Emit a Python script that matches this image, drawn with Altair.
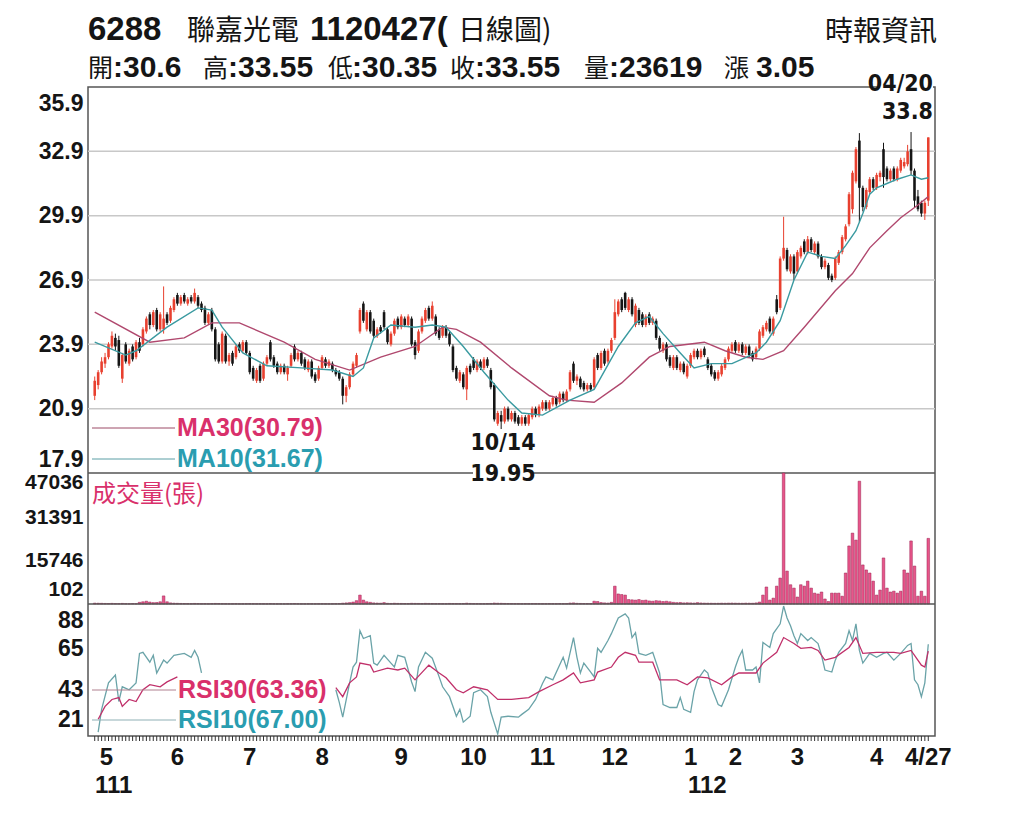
import altair as alt
import pandas as pd

# ---- values (one entry per trading day) ----
month_labels = ["5", "6", "7", "8", "9", "10", "11", "12", "1", "2", "3", "4", "4/27"]
month_start = [0, 24, 45, 66, 89, 110, 130, 151, 173, 186, 204, 227, 242]
year_labels = ["111", "112"]

opens = [
    21.5, 22.0, 22.6, 23.0, 23.3, 23.8, 24.2, 24.1, 22.3, 23.9, 23.0, 23.8, 23.3, 24.0, 23.9, 24.5, 25.3, 24.8, 25.5, 24.6, 24.6, 25.3, 25.0, 25.5,
    26.2, 25.8, 26.2, 25.8, 26.1, 25.9, 26.1, 25.8, 25.6, 24.9, 25.5, 24.6, 23.9, 23.1, 24.3, 23.1, 23.5, 23.3, 23.9, 23.6, 24.0,
    23.5, 22.8, 22.2, 22.9, 22.3, 23.0, 24.0, 23.3, 23.0, 22.6, 22.9, 22.5, 22.9, 23.8, 23.2, 23.5, 23.2, 22.7, 23.1, 22.5, 22.3,
    22.8, 23.2, 22.9, 23.0, 22.7, 22.6, 22.3, 21.5, 21.9, 22.5, 22.9, 24.5, 25.8, 24.6, 25.4, 25.0, 24.3, 24.7, 25.4, 24.6, 23.9, 24.4, 25.1,
    24.7, 25.1, 24.8, 25.1, 24.0, 23.6, 24.5, 25.0, 25.6, 25.1, 25.2, 24.6, 24.3, 24.7, 24.4, 23.8, 22.8, 22.2, 22.5, 21.8, 22.9,
    23.2, 22.7, 23.1, 22.8, 23.2, 22.7, 22.0, 20.2, 20.6, 20.3, 20.9, 20.4, 20.7, 20.5, 20.2, 20.5, 20.2, 20.5, 20.9, 20.6,
    20.9, 21.2, 20.9, 21.1, 21.4, 21.2, 21.6, 21.3, 21.8, 23.0, 22.2, 22.3, 22.1, 21.8, 22.0, 21.9, 23.4, 22.8, 23.6, 23.1, 23.6,
    24.2, 25.3, 26.0, 26.3, 25.5, 26.0, 24.8, 25.5, 25.3, 24.8, 25.3, 24.9, 25.0, 24.2, 23.6, 23.9, 23.3, 22.8, 23.3, 22.7, 23.0, 22.4,
    22.9, 23.3, 23.6, 23.3, 23.7, 23.2, 22.9, 22.6, 22.3, 22.5, 22.8, 23.2, 23.6,
    24.0, 23.6, 23.9, 23.5, 23.8, 23.5, 23.3, 23.7, 24.3, 24.6, 25.1, 24.4, 26.0, 25.6, 27.9, 28.3, 27.3, 28.0,
    27.3, 28.0, 28.7, 28.2, 28.8, 28.2, 28.6, 28.0, 27.5, 27.6, 27.1, 27.0, 27.7, 28.2, 28.8, 29.5, 30.2, 31.5, 33.4, 31.2, 30.3, 31.0, 31.6,
    31.2, 31.7, 33.0, 32.1, 31.6, 32.1, 31.6, 32.0, 32.2, 32.3, 33.0, 32.0, 30.8, 30.5, 30.0, 30.6,
]
closes = [
    22.2, 22.6, 23.1, 23.3, 23.9, 24.3, 23.8, 22.9, 23.4, 23.1, 23.6, 23.2, 24.0, 23.6, 24.6, 25.1, 24.8, 25.4, 24.6, 25.3, 25.1, 24.9, 25.6, 26.0,
    25.8, 26.1, 25.9, 26.0, 25.9, 26.3, 25.7, 25.5, 24.9, 25.3, 24.6, 23.2, 23.1, 24.4, 23.1, 23.4, 23.0, 23.8, 23.6, 24.0, 23.5,
    22.6, 22.3, 22.7, 22.2, 23.0, 23.3, 23.2, 22.9, 22.6, 22.9, 22.6, 22.8, 23.4, 23.2, 23.5, 23.0, 22.8, 23.1, 22.4, 22.2, 22.8,
    23.3, 22.9, 23.1, 22.7, 22.5, 22.3, 21.5, 21.9, 22.5, 23.0, 23.4, 25.5, 25.0, 25.4, 24.5, 24.3, 24.6, 24.5, 24.7, 24.0, 24.4, 25.0, 24.7,
    25.2, 24.8, 25.2, 23.9, 23.4, 24.5, 25.1, 25.5, 25.1, 25.7, 24.4, 24.2, 24.7, 24.3, 23.9, 22.7, 22.3, 22.6, 21.9, 22.8, 22.6,
    22.8, 23.1, 22.8, 23.2, 22.9, 21.9, 20.4, 20.7, 20.3, 20.9, 20.4, 20.7, 20.3, 20.2, 20.5, 20.2, 20.6, 20.9, 20.6, 21.0,
    21.2, 20.9, 21.2, 21.4, 21.1, 21.6, 21.3, 21.7, 22.6, 22.2, 22.4, 21.9, 21.8, 22.0, 21.8, 23.2, 22.8, 23.5, 23.0, 23.6, 24.1,
    25.4, 25.9, 25.5, 25.6, 26.0, 25.3, 25.7, 24.9, 24.8, 25.2, 24.9, 25.1, 24.2, 23.7, 23.9, 23.2, 22.9, 23.3, 22.8, 23.0, 22.6, 22.9,
    23.4, 23.6, 23.3, 23.6, 23.4, 22.8, 22.5, 22.3, 22.6, 22.9, 23.2, 23.7, 23.9,
    23.6, 23.9, 23.5, 23.8, 23.4, 23.2, 23.7, 24.5, 24.7, 24.9, 24.5, 25.1, 25.4, 27.9, 28.4, 27.4, 28.0, 27.2,
    28.2, 28.4, 28.2, 28.8, 28.3, 28.6, 28.0, 27.5, 27.8, 27.0, 26.9, 27.9, 28.2, 28.9, 29.4, 30.9, 31.9, 33.0, 31.2, 30.3, 31.1, 31.6, 31.2,
    31.8, 31.9, 31.7, 31.6, 32.0, 31.6, 32.1, 32.5, 32.4, 32.9, 32.0, 30.6, 30.2, 30.0, 30.5, 33.55,
]
highs = [
    22.4, 22.7, 23.3, 23.5, 24.0, 24.5, 24.4, 24.3, 23.5, 24.0, 23.7, 23.9, 24.1, 24.2, 24.7, 25.2, 25.4, 25.5, 25.6, 25.4, 26.6, 25.4, 25.7, 26.1,
    26.3, 26.2, 26.3, 26.1, 26.2, 26.5, 26.2, 25.9, 25.7, 25.4, 25.6, 24.7, 24.0, 24.5, 24.4, 23.5, 23.6, 23.9, 24.0, 24.1, 24.1,
    23.6, 22.9, 22.8, 23.0, 23.1, 23.4, 24.1, 23.4, 23.1, 23.0, 23.0, 22.9, 23.5, 23.9, 23.6, 23.6, 23.3, 23.2, 23.2, 22.6, 22.9,
    23.4, 23.3, 23.2, 23.1, 22.8, 22.7, 22.4, 22.0, 22.6, 23.1, 23.5, 25.6, 25.9, 25.5, 25.5, 25.1, 24.7, 24.8, 25.5, 24.7, 24.5, 25.1, 25.2,
    25.3, 25.2, 25.3, 25.2, 24.1, 24.6, 25.2, 25.6, 25.7, 25.9, 25.3, 24.7, 24.8, 24.8, 24.5, 23.9, 22.9, 22.7, 22.6, 22.9, 23.0,
    23.3, 23.2, 23.2, 23.3, 23.3, 22.8, 22.1, 20.8, 20.8, 21.0, 21.0, 20.8, 20.8, 20.6, 20.6, 20.6, 20.7, 21.0, 21.0, 21.1,
    21.3, 21.3, 21.3, 21.5, 21.5, 21.7, 21.7, 21.8, 22.7, 23.1, 22.5, 22.4, 22.2, 22.1, 22.1, 23.3, 23.5, 23.6, 23.7, 23.7, 24.2,
    26.0, 26.0, 26.1, 26.35, 26.1, 26.1, 25.8, 25.6, 25.4, 25.3, 25.4, 25.2, 25.1, 24.3, 24.0, 24.0, 23.4, 23.4, 23.4, 23.1, 23.1, 23.0,
    23.5, 23.7, 23.7, 23.7, 23.8, 23.3, 23.0, 22.7, 22.7, 23.0, 23.3, 23.8, 24.0,
    24.1, 24.0, 24.0, 23.9, 23.9, 23.6, 23.8, 24.6, 24.8, 25.0, 25.2, 25.2, 26.2, 28.0, 29.85, 28.4, 28.1, 28.1,
    28.3, 28.5, 28.8, 28.95, 28.9, 28.7, 28.7, 28.1, 27.9, 27.7, 27.2, 28.0, 28.3, 29.0, 29.5, 31.0, 32.0, 33.1, 33.75, 31.3, 31.2, 31.7, 31.7,
    31.9, 32.0, 33.3, 32.2, 32.1, 32.2, 32.2, 32.6, 32.6, 33.2, 33.8, 32.1, 31.1, 30.6, 30.6, 33.55,
]
lows = [
    21.3, 21.8, 22.5, 22.8, 23.2, 23.7, 23.6, 22.8, 22.1, 23.0, 22.9, 23.1, 23.2, 23.5, 23.8, 24.4, 24.6, 24.7, 24.5, 24.5, 24.4, 24.8, 24.9, 25.4,
    25.7, 25.7, 25.8, 25.7, 25.8, 25.8, 25.6, 25.4, 24.8, 24.8, 24.5, 23.1, 23.0, 23.0, 23.0, 22.9, 22.9, 23.2, 23.5, 23.5, 23.4,
    22.5, 22.2, 22.1, 22.1, 22.2, 22.9, 23.1, 22.8, 22.5, 22.5, 22.5, 22.2, 22.8, 23.1, 23.1, 22.9, 22.7, 22.6, 22.3, 22.1, 22.2,
    22.7, 22.8, 22.8, 22.6, 22.4, 22.2, 21.1, 21.2, 21.8, 22.4, 22.8, 24.4, 24.9, 24.5, 24.4, 24.2, 24.2, 24.4, 24.6, 23.9, 23.8, 24.3, 24.6,
    24.6, 24.7, 24.7, 23.8, 23.2, 23.5, 24.4, 24.9, 25.0, 25.0, 24.3, 24.1, 24.2, 24.2, 23.8, 22.6, 22.2, 22.1, 21.8, 21.3, 22.5,
    22.7, 22.6, 22.7, 22.7, 22.8, 21.8, 20.3, 20.1, 19.95, 20.2, 20.3, 20.3, 20.2, 20.1, 20.1, 20.1, 20.1, 20.4, 20.5, 20.5,
    20.8, 20.8, 20.8, 21.0, 21.0, 21.1, 21.2, 21.2, 21.7, 22.1, 22.0, 21.8, 21.7, 21.7, 21.7, 21.8, 22.7, 22.7, 22.9, 23.0, 23.5,
    24.1, 25.2, 25.4, 25.5, 25.4, 25.2, 24.7, 24.8, 24.7, 24.7, 24.8, 24.8, 24.1, 23.6, 23.5, 23.1, 22.8, 22.7, 22.7, 22.6, 22.5, 22.3,
    22.8, 23.2, 23.2, 23.2, 23.3, 22.7, 22.4, 22.2, 22.2, 22.4, 22.7, 23.1, 23.5,
    23.5, 23.5, 23.4, 23.4, 23.3, 23.1, 23.2, 23.6, 24.2, 24.5, 24.4, 24.3, 25.3, 25.5, 27.8, 27.3, 27.2, 26.9,
    27.2, 27.9, 28.1, 28.1, 28.2, 28.1, 27.9, 27.4, 27.4, 26.9, 26.8, 26.9, 27.6, 28.1, 28.7, 29.4, 30.0, 31.4, 29.6, 30.1, 30.2, 30.9, 31.1,
    31.1, 31.5, 31.2, 31.5, 31.5, 31.5, 31.5, 31.9, 32.1, 32.2, 31.8, 30.3, 30.1, 29.85, 29.7, 30.35,
]
volume = [
    420, 380, 350, 300, 280, 330, 260, 240, 310, 220, 200, 250, 230, 700, 900, 1100, 800, 600, 650, 900, 3000, 900, 500, 400,
    350, 300, 280, 250, 240, 300, 260, 220, 240, 200, 260, 300, 280, 240, 220, 200, 210, 230, 190, 200, 220,
    240, 230, 200, 220, 210, 190, 250, 200, 180, 190, 170, 200, 220, 260, 200, 190, 180, 200, 210, 190, 200,
    220, 200, 190, 210, 230, 250, 400, 500, 600, 800, 1300, 3300, 1500, 900, 700, 500, 450, 400, 600, 350, 300, 380, 320,
    300, 280, 260, 350, 320, 300, 280, 330, 300, 280, 250, 260, 240, 230, 300, 280, 260, 250, 270, 400, 300,
    250, 240, 230, 220, 260, 300, 450, 380, 350, 300, 280, 260, 240, 230, 220, 240, 230, 260, 250, 240,
    230, 220, 250, 240, 230, 260, 240, 250, 450, 500, 350, 300, 280, 260, 250, 1100, 1000, 600, 500, 450, 700,
    6500, 3700, 3500, 3300, 1700, 1600, 1500, 1700, 1400, 1500, 1200, 1100, 1300, 1200, 1000, 1100, 900, 700, 600, 650, 500, 550,
    500, 450, 600, 480, 420, 400, 380, 350, 370, 400, 380, 420, 450,
    400, 380, 360, 420, 400, 380, 500, 800, 3300, 6200, 1500, 2200, 6500, 9400, 47036, 11900, 7000, 5800,
    2600, 7000, 6500, 8300, 5800, 4000, 3700, 4400, 1900, 1000, 4000, 4000, 4000, 2900, 11200, 20900, 25500, 23000, 44100, 14100, 12300, 11200, 8300,
    3300, 5100, 16600, 5800, 4400, 4700, 4000, 4700, 12300, 11200, 22700, 13700, 2900, 4700, 2900, 23619,
]

ma30_idx = [0, 16, 26, 34, 42, 55, 64, 74, 83, 93, 101, 105, 112, 121, 132, 137, 145, 153, 161, 167, 177, 183, 189, 194, 200, 206, 215, 220, 225, 230, 234, 239, 242]
ma30 = [25.4, 24.0, 24.2, 24.9, 24.9, 24.0, 23.2, 22.7, 23.3, 23.8, 24.7, 24.6, 24.0, 22.8, 21.5, 21.3, 21.2, 22.1, 23.3, 23.8, 24.0, 23.6, 23.3, 23.2, 23.6, 24.7, 26.4, 27.2, 28.4, 29.2, 29.8, 30.4, 30.79]
ma10_idx = [0, 9, 12, 21, 30, 34, 37, 43, 50, 60, 69, 75, 78, 81, 86, 93, 98, 102, 107, 113, 120, 124, 130, 138, 145, 152, 157, 161, 165, 170, 174, 179, 185, 192, 195, 199, 203, 207, 211, 215, 218, 221, 223, 225, 227, 230, 233, 237, 240, 242]
ma10 = [24.0, 23.4, 23.6, 24.7, 25.6, 25.5, 24.7, 23.5, 22.9, 22.8, 22.7, 22.4, 22.8, 24.2, 24.8, 24.7, 24.8, 24.7, 23.8, 22.6, 21.3, 20.7, 20.6, 21.3, 21.8, 23.8, 24.9, 25.2, 24.4, 23.5, 22.8, 23.0, 23.0, 23.5, 24.0, 25.0, 26.9, 28.2, 28.0, 27.9, 28.5, 29.2, 30.0, 30.9, 31.2, 31.4, 31.6, 31.8, 31.6, 31.67]

rsi10_idx_a = [1, 2, 4, 6, 7, 8, 10, 12, 13, 14, 16, 17, 18, 20, 21, 23, 26, 28, 29, 30, 31]
rsi10_a = [19.9, 32.1, 46.3, 50.5, 36.3, 44.2, 42.6, 46.3, 62.1, 62.7, 57.4, 61.1, 51.6, 58.5, 56.9, 61.1, 62.1, 60.0, 63.7, 60.0, 51.6]
rsi10_idx_b = [70, 71, 72, 74, 75, 76, 77, 78, 80, 81, 82, 84, 86, 87, 88, 90, 92, 93, 94, 96,
               98, 100, 101, 103, 105, 106, 107, 109, 110, 112, 114, 115, 117, 118, 120, 123, 124, 126, 128, 130,
               131, 133, 136, 137, 139, 140, 141, 142, 144, 145, 146, 147, 149, 150, 152, 154, 155, 156, 157, 158,
               160, 162, 164, 165, 167, 169, 170, 171, 173, 174, 175, 177, 178, 179, 181, 182, 184, 186, 187, 188,
               189, 191, 192, 193, 194, 196, 197, 199, 200, 201, 202, 203, 204, 205, 207, 208, 210, 211, 212, 214,
               215, 216, 218, 219, 220, 221, 222, 223, 225, 227, 229, 230, 232, 234, 236, 237, 238, 239, 240, 241, 242]
rsi10_b = [42.6, 35.8, 27.9, 46.3, 54.8, 57.4, 74.3, 70.1, 71.6, 56.9, 55.8, 61.1, 56.9, 54.8, 61.1, 60.0, 46.8, 41.6, 54.8, 62.7,
           59.5, 49.5, 44.2, 38.9, 28.4, 32.1, 25.2, 28.4, 41.0, 42.6, 38.9, 30.5, 18.9, 27.9, 28.4, 27.9, 29.4, 32.1, 37.4, 46.0,
           49.5, 47.9, 60.0, 54.2, 70.6, 60.0, 51.6, 56.9, 52.1, 49.5, 64.8, 62.7, 69.0, 72.7, 81.1, 83.3, 81.1, 70.6, 73.2, 62.1,
           61.1, 62.7, 51.6, 34.7, 33.1, 33.1, 38.4, 32.1, 30.5, 41.6, 47.9, 53.2, 51.6, 44.2, 34.7, 33.7, 42.6, 54.8, 60.0, 63.7,
           53.2, 53.2, 54.8, 46.3, 68.0, 65.3, 72.7, 78.0, 87.5, 81.1, 76.9, 71.6, 67.4, 72.7, 69.0, 70.6, 67.4, 61.1, 53.2, 52.1,
           58.5, 62.7, 67.4, 74.3, 69.0, 78.0, 63.7, 56.9, 62.1, 60.0, 62.1, 62.7, 58.5, 62.1, 66.4, 67.4, 47.9, 45.3, 38.9, 46.3, 67.0]
rsi30_idx_a = [1, 3, 5, 7, 8, 10, 12, 14, 16, 19, 21, 24]
rsi30_a = [26.8, 33.7, 37.4, 38.4, 33.7, 37.4, 36.3, 42.6, 45.3, 44.2, 46.8, 49.5]
rsi30_idx_b = [70, 72, 74, 76, 77, 80, 81, 85, 88, 90, 93, 97, 100, 102, 105, 107, 110, 114, 117, 121,
               126, 129, 133, 136, 139, 141, 145, 146, 150, 152, 154, 157, 158, 162, 164, 169, 172, 175, 178, 182,
               185, 187, 192, 194, 198, 200, 203, 205, 208, 210, 212, 215, 219, 221, 223, 227, 232, 234, 237, 240, 241, 242]
rsi30_b = [43.7, 38.9, 46.3, 49.5, 56.9, 55.8, 52.1, 54.2, 53.2, 54.2, 47.9, 55.8, 51.6, 49.0, 42.6, 41.0, 44.2, 42.6, 37.4, 37.4,
           38.4, 41.6, 45.3, 47.9, 51.6, 46.3, 47.9, 52.1, 54.8, 60.0, 62.7, 61.1, 57.4, 57.4, 47.9, 47.9, 45.3, 49.5, 49.0, 45.3,
           49.5, 51.6, 51.6, 56.9, 62.7, 70.6, 67.4, 64.8, 65.3, 63.7, 58.5, 60.0, 65.3, 70.6, 62.1, 62.7, 62.7, 62.1, 63.7, 55.8, 54.8, 63.36]

grid_levels = [20.9, 23.9, 26.9, 29.9, 32.9]

n_days = len(closes)
assert len(opens) == len(highs) == len(lows) == len(volume) == n_days == 243

# ---- tables ----
days = pd.DataFrame({"idx": range(n_days), "open": opens, "high": highs,
                     "low": lows, "close": closes, "volume": volume})
months = pd.DataFrame({"idx": month_start, "label": month_labels})
ma30_df = pd.DataFrame({"idx": ma30_idx, "value": ma30})
ma10_df = pd.DataFrame({"idx": ma10_idx, "value": ma10})
rsi10_df = pd.concat([
    pd.DataFrame({"idx": rsi10_idx_a, "value": rsi10_a, "seg": "a"}),
    pd.DataFrame({"idx": rsi10_idx_b, "value": rsi10_b, "seg": "b"}),
])
rsi30_df = pd.concat([
    pd.DataFrame({"idx": rsi30_idx_a, "value": rsi30_a, "seg": "a"}),
    pd.DataFrame({"idx": rsi30_idx_b, "value": rsi30_b, "seg": "b"}),
])
grid_df = pd.DataFrame({"level": grid_levels})
one = pd.DataFrame({"k": [0]})

# ---- look ----
W, H = 847, 649
LATIN = "Liberation Sans, Arial, sans-serif"
NARROW = "Liberation Sans Narrow, DejaVu Sans Condensed, Liberation Sans, sans-serif"
CJK = "Noto Sans CJK TC, sans-serif"
INK = "#151515"
UP, DOWN = "#e8402f", "#151515"
PINK_TEXT, TEAL_TEXT = "#d9306b", "#2a9db0"
FRAME = "#555555"

x_scale = alt.Scale(domain=[-0.5, n_days - 0.5], nice=False, zero=False)


def price_scale():
    return alt.Scale(domain=[17.9, 35.9], range=[386, 0], nice=False, zero=False)


def vol_scale():
    return alt.Scale(domain=[102, 47036], range=[517, 386], nice=False, zero=False)


def rsi_scale():
    return alt.Scale(domain=[17.8, 88.6], range=[649, 517], nice=False, zero=False)


def y_axis(values, expr, size=23):
    return alt.Axis(
        values=values, labelExpr=expr, orient="left", ticks=False, domain=False, grid=False,
        title=None, labelFont=LATIN, labelFontWeight="bold", labelFontSize=size,
        labelColor=INK, labelPadding=5, labelFlush=False, labelOverlap=False,
    )


price_axis = y_axis(
    [18.55, 20.9, 23.9, 26.9, 29.9, 32.9, 35.15],
    "datum.value > 35 ? '35.9' : datum.value < 19 ? '17.9' : format(datum.value, '.1f')",
)
vol_axis = y_axis(
    [5118, 15509, 30916, 43456],
    "datum.value > 40000 ? '47036' : datum.value > 25000 ? '31391' : datum.value > 10000 ? '15746' : '102'",
    size=21,
)
rsi_axis = y_axis(
    [26.4, 43, 65, 80],
    "datum.value == 80 ? '88' : datum.value < 30 ? '21' : format(datum.value, 'd')",
)


def xq():
    return alt.X("idx:Q", scale=x_scale, axis=None)


def text(t, x, y, size, font=LATIN, weight="bold", color=INK, align="left", baseline="alphabetic"):
    return alt.Chart(one).mark_text(
        text=t, font=font, fontSize=size, fontWeight=weight, align=align, baseline=baseline, color=color
    ).encode(x=alt.value(x), y=alt.value(y))


def white_box(x, x2, y, y2):
    return alt.Chart(one).mark_rect(color="white").encode(
        x=alt.value(x), x2=alt.value(x2), y=alt.value(y), y2=alt.value(y2))


def legend_line(y, color, x2=87):
    return alt.Chart(one).mark_rule(color=color, strokeWidth=1).encode(
        x=alt.value(4), x2=alt.value(x2), y=alt.value(y))


up_down = alt.condition("datum.close >= datum.open", alt.value(UP), alt.value(DOWN))

# ---- price panel ----
grid = alt.Chart(grid_df).mark_rule(color="#c8c8c8", strokeWidth=1.5).encode(
    y=alt.Y("level:Q", scale=price_scale(), axis=None))
price_sep = alt.Chart(pd.DataFrame({"level": [17.9]})).mark_rule(color=FRAME, strokeWidth=1.5).encode(
    y=alt.Y("level:Q", scale=price_scale(), axis=None))
wicks = alt.Chart(days).mark_rule(strokeWidth=1).encode(
    x=xq(), y=alt.Y("low:Q", scale=price_scale(), axis=None), y2="high:Q", color=up_down)
bodies = alt.Chart(days).mark_bar(size=2.6).encode(
    x=xq(), y=alt.Y("open:Q", scale=price_scale(), axis=price_axis), y2="close:Q", color=up_down)
ma30_line = alt.Chart(ma30_df).mark_line(color="#b0486e", strokeWidth=1.4).encode(
    x=xq(), y=alt.Y("value:Q", scale=price_scale(), axis=None))
ma10_line = alt.Chart(ma10_df).mark_line(color="#3a9aa0", strokeWidth=1.4).encode(
    x=xq(), y=alt.Y("value:Q", scale=price_scale(), axis=None))

# ---- volume panel ----
vol_bars = alt.Chart(days).mark_bar(size=2.6, fill="#e8558a", stroke="#9a2050", strokeWidth=0.5, clip=True).encode(
    x=xq(), y=alt.Y("volume:Q", scale=vol_scale(), axis=vol_axis), y2=alt.datum(102))
vol_sep = alt.Chart(pd.DataFrame({"level": [102]})).mark_rule(color=FRAME, strokeWidth=1.5).encode(
    y=alt.Y("level:Q", scale=vol_scale(), axis=None))

# ---- RSI panel ----
rsi10_line = alt.Chart(rsi10_df).mark_line(color="#6aa3a8", strokeWidth=1.3).encode(
    x=xq(), y=alt.Y("value:Q", scale=rsi_scale(), axis=rsi_axis), detail="seg:N")
rsi30_line = alt.Chart(rsi30_df).mark_line(color="#c0306a", strokeWidth=1.3).encode(
    x=xq(), y=alt.Y("value:Q", scale=rsi_scale(), axis=None), detail="seg:N")

# ---- date axis: one tick per trading day, month names under month starts ----
day_ticks = alt.Chart(days).mark_rule(color="#333333", strokeWidth=1).encode(
    x=xq(), y=alt.value(H), y2=alt.value(H + 5))
month_font = dict(font=LATIN, fontWeight="bold", fontSize=24, color=INK, baseline="top")
first_month = alt.Chart(months).transform_filter("datum.idx == 0").mark_text(
    align="left", dx=5, **month_font).encode(x=xq(), y=alt.value(H + 10), text="label:N")
other_months = alt.Chart(months).transform_filter("datum.idx > 0").mark_text(
    align="center", **month_font).encode(x=xq(), y=alt.value(H + 10), text="label:N")

# ---- texts, legends, annotations ----
deco = [
    # header, first line
    text("6288", 0, -47, 33),
    text("聯嘉光電", 99, -47, 28, font=CJK, weight="normal"),
    text("1120427(", 222, -47, 33),
    text("日線圖)", 370, -47, 28, font=CJK, weight="normal"),
    text("時報資訊", 849, -46, 28, font=CJK, weight="normal", align="right"),
    # header, second line
    text("開", 0, -10, 25, font=CJK, weight="normal"),
    text(":30.6", 25, -10, 30),
    text("高", 115, -10, 25, font=CJK, weight="normal"),
    text(":33.55", 140, -10, 30),
    text("低", 240, -10, 25, font=CJK, weight="normal"),
    text(":30.35", 264, -10, 30),
    text("收", 362, -10, 25, font=CJK, weight="normal"),
    text(":33.55", 387, -10, 30),
    text("量", 496, -10, 25, font=CJK, weight="normal"),
    text(":23619", 521, -10, 30),
    text("漲", 636, -10, 25, font=CJK, weight="normal"),
    text("3.05", 668, -10, 30),
    # price annotations
    white_box(792, 845, -12, 9),
    text("04/20", 845, -3, 23, font=NARROW, align="right", baseline="middle"),
    text("33.8", 845, 25, 23, font=NARROW, align="right", baseline="middle"),
    text("10/14", 415, 356, 23, font=NARROW, align="center", baseline="middle"),
    white_box(385, 445, 378, 396),
    text("19.95", 415, 387, 23, font=NARROW, align="center", baseline="middle"),
    # moving-average legend
    legend_line(341, "#9c4a66"),
    text("MA30(30.79)", 89, 341, 25, color=PINK_TEXT, baseline="middle"),
    legend_line(372, "#5a9ea5"),
    text("MA10(31.67)", 89, 372, 25, color=TEAL_TEXT, baseline="middle"),
    # volume title
    text("成交量(張)", 4, 415, 24, font=CJK, weight="normal", color=PINK_TEXT),
    # RSI legend
    legend_line(603, "#b0808f", 88),
    text("RSI30(63.36)", 90, 603, 25, color=PINK_TEXT, baseline="middle"),
    legend_line(633, "#8fb0b5", 88),
    text("RSI10(67.00)", 90, 633, 25, color=TEAL_TEXT, baseline="middle"),
    # year row under the month labels
    text(year_labels[0], 7, 699, 24, baseline="middle"),
    text(year_labels[1], 600, 699, 24, baseline="middle"),
]

chart = (
    alt.layer(
        grid, price_sep, wicks, bodies, ma30_line, ma10_line,
        vol_bars, vol_sep, rsi10_line, rsi30_line,
        day_ticks, first_month, other_months, *deco,
    )
    .resolve_scale(y="independent")
    .properties(
        width=W,
        height=H,
        autosize="none",
        padding={"left": 80, "top": 79, "right": 60, "bottom": 75},
        background="white",
    )
    .configure_view(stroke=FRAME, strokeWidth=1.5)
)

chart.save("out.html", embed_options={"renderer": "svg", "actions": False})
